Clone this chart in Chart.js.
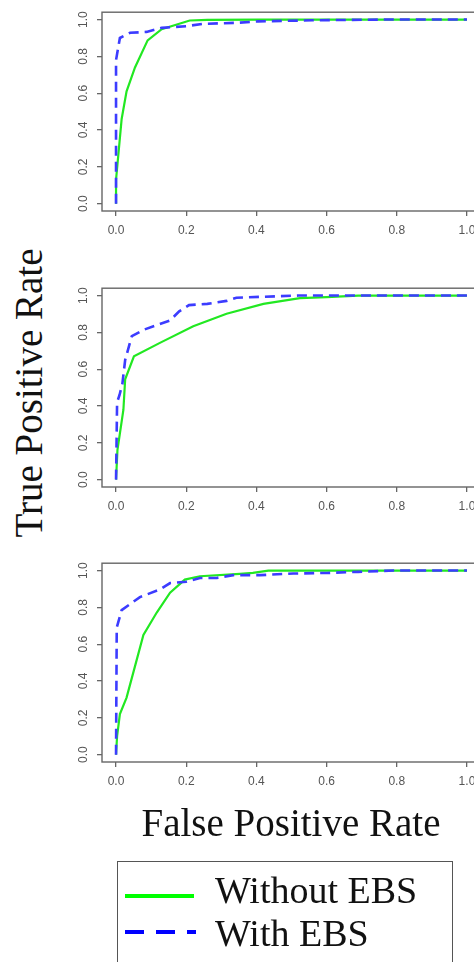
<!DOCTYPE html>
<html>
<head>
<meta charset="utf-8">
<script src="https://cdn.jsdelivr.net/npm/chart.js@4/dist/chart.umd.min.js"></script>
<style>
  html, body { margin:0; padding:0; background:#fff; width:474px; height:962px; overflow:hidden; position:relative; }
  canvas.panel { position:absolute; left:60px; }
  .title { position:absolute; font-family:"Liberation Serif","Times New Roman",serif; color:#111; white-space:nowrap; line-height:1; }
</style>
</head>
<body>
<canvas id="c1" class="panel" width="440" height="250" style="top:0px"></canvas>
<canvas id="c2" class="panel" width="440" height="250" style="top:276px"></canvas>
<canvas id="c3" class="panel" width="440" height="250" style="top:551px"></canvas>

<div class="title" id="ytitle" style="font-size:39px; left:27.5px; top:392.5px; transform:translate(-50%,-50%) rotate(-90deg);">True Positive Rate</div>
<div class="title" id="xtitle" style="font-size:39px; left:291px; top:822px; transform:translate(-50%,-50%);">False Positive Rate</div>

<div style="position:absolute; left:117px; top:861px; width:336px; height:120px; border:1.5px solid #555; box-sizing:border-box;"></div>
<svg style="position:absolute; left:0; top:0;" width="474" height="962">
  <line x1="125" y1="896" x2="194" y2="896" stroke="#00ff00" stroke-width="4"/>
  <line x1="125" y1="932" x2="196" y2="932" stroke="#0000ff" stroke-width="4" stroke-dasharray="19 12"/>
</svg>
<div class="title" id="leg1" style="font-size:38px; left:215px; top:890px; transform:translateY(-50%);">Without EBS</div>
<div class="title" id="leg2" style="font-size:38px; left:215px; top:932.5px; transform:translateY(-50%);">With EBS</div>

<script>
// ---- data ----
const seriesNames = ["Without EBS", "With EBS"];
const xTicks = [0, 0.2, 0.4, 0.6, 0.8, 1.0];
const yTicks = [0, 0.2, 0.4, 0.6, 0.8, 1.0];

const p1WithoutX = [0, 0, 0.016, 0.03, 0.054, 0.09, 0.13, 0.21, 0.26, 0.41, 1.0];
const p1WithoutY = [0, 0.13, 0.46, 0.61, 0.74, 0.887, 0.948, 0.995, 0.998, 1.0, 1.0];
const p1WithX = [0, 0, 0.011, 0.04, 0.087, 0.13, 0.2, 0.25, 0.34, 0.405, 0.56, 0.75, 1.0];
const p1WithY = [0, 0.78, 0.90, 0.928, 0.933, 0.955, 0.964, 0.977, 0.982, 0.99, 0.996, 1.0, 1.0];

const p2WithoutX = [0, 0.004, 0.021, 0.026, 0.051, 0.125, 0.22, 0.315, 0.42, 0.524, 0.6, 0.69, 1.0];
const p2WithoutY = [0, 0.16, 0.38, 0.545, 0.67, 0.743, 0.833, 0.901, 0.955, 0.986, 0.991, 1.0, 1.0];
const p2WithX = [0, 0.003, 0.01, 0.018, 0.026, 0.045, 0.08, 0.154, 0.18, 0.208, 0.26, 0.315, 0.343, 0.41, 0.52, 1.0];
const p2WithY = [0, 0.42, 0.46, 0.52, 0.65, 0.78, 0.815, 0.865, 0.914, 0.948, 0.955, 0.971, 0.988, 0.993, 1.0, 1.0];

const p3WithoutX = [0, 0.003, 0.011, 0.03, 0.052, 0.078, 0.116, 0.154, 0.196, 0.239, 0.353, 0.39, 0.434, 1.0];
const p3WithoutY = [0, 0.1, 0.22, 0.31, 0.466, 0.65, 0.772, 0.88, 0.951, 0.969, 0.982, 0.987, 1.0, 1.0];
const p3WithX = [0, 0.002, 0.016, 0.068, 0.125, 0.154, 0.2, 0.239, 0.287, 0.334, 0.41, 0.505, 0.6, 0.69, 0.79, 1.0];
const p3WithY = [0, 0.69, 0.785, 0.856, 0.897, 0.932, 0.939, 0.96, 0.96, 0.975, 0.975, 0.984, 0.987, 0.993, 1.0, 1.0];

// ---- helpers ----
const pts = (xs, ys) => xs.map((x, i) => ({x: x, y: ys[i]}));

const boxPlugin = {
  id: 'rbox',
  afterDraw(chart) {
    const a = chart.chartArea, ctx = chart.ctx;
    ctx.save();
    ctx.strokeStyle = '#666';
    ctx.lineWidth = 1.4;
    ctx.strokeRect(a.left, a.top, a.right - a.left, a.bottom - a.top);
    ctx.restore();
  }
};

const tickFont = {family: '"Liberation Sans", Arial, sans-serif', size: 12};

function makeChart(id, withoutX, withoutY, withX, withY) {
  return new Chart(document.getElementById(id), {
    type: 'line',
    data: {
      datasets: [
        { label: seriesNames[0], data: pts(withoutX, withoutY), borderColor: '#22e822', borderWidth: 2.2,
          pointRadius: 0, tension: 0, fill: false, order: 1 },
        { label: seriesNames[1], data: pts(withX, withY), borderColor: '#3c3cff', borderWidth: 2.6,
          borderDash: [10, 6], pointRadius: 0, tension: 0, fill: false, order: 0 }
      ]
    },
    options: {
      responsive: false, animation: false, devicePixelRatio: 1,
      layout: { padding: { top: 10, right: 19, left: 0, bottom: 0 } },
      plugins: { legend: { display: false }, tooltip: { enabled: false } },
      scales: {
        x: {
          type: 'linear', min: -0.04, max: 1.04,
          afterBuildTicks: s => { s.ticks = xTicks.map(v => ({value: v})); },
          afterFit: s => { s.height = 39; },
          grid: { drawOnChartArea: false, drawTicks: true, tickLength: 5, color: '#666', lineWidth: 1.3 },
          border: { display: false },
          ticks: { font: tickFont, color: '#555', padding: 7, maxRotation: 0, minRotation: 0,
                   callback: v => Number(v).toFixed(1) }
        },
        y: {
          type: 'linear', min: -0.04, max: 1.04,
          afterBuildTicks: s => { s.ticks = yTicks.map(v => ({value: v})); },
          afterFit: s => { s.width = 42; },
          grid: { drawOnChartArea: false, drawTicks: true, tickLength: 5, color: '#666', lineWidth: 1.3 },
          border: { display: false },
          ticks: { font: tickFont, color: '#555', padding: 5, minRotation: 90, maxRotation: 90, crossAlign: 'center',
                   callback: v => Number(v).toFixed(1) }
        }
      }
    },
    plugins: [boxPlugin]
  });
}

makeChart('c1', p1WithoutX, p1WithoutY, p1WithX, p1WithY);
makeChart('c2', p2WithoutX, p2WithoutY, p2WithX, p2WithY);
makeChart('c3', p3WithoutX, p3WithoutY, p3WithX, p3WithY);
</script>
</body>
</html>
